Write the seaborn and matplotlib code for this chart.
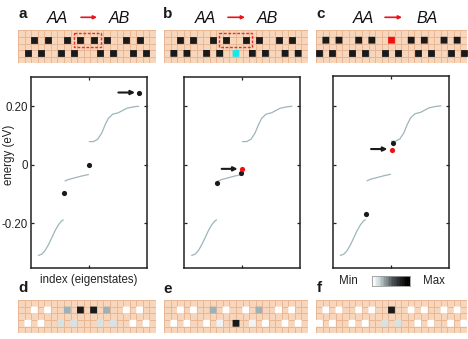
import matplotlib
matplotlib.use("Agg")
import matplotlib.pyplot as plt
import numpy as np
import pandas as pd
import seaborn as sns
from matplotlib.colors import LinearSegmentedColormap, ListedColormap
from matplotlib.patches import Rectangle

# energy levels, index axis runs 0-100
lower_idx = [6.6, 9.5, 12.3, 15.2, 18.0, 20.9, 23.8, 26.6, 28.0]
lower_e = [-0.309, -0.305, -0.293, -0.273, -0.25, -0.225, -0.205, -0.191, -0.188]
mid_idx = [29.5, 32.4, 38.1, 43.8, 49.6]
mid_e = [-0.055, -0.050, -0.044, -0.038, -0.033]
upper_idx = [50.4, 53.9, 57.6, 61.0, 63.9, 66.8, 70.5, 75.4, 82.5, 88.2, 92.8]
upper_e = [0.0795, 0.0795, 0.0875, 0.108, 0.136, 0.159, 0.173, 0.178, 0.193, 0.198, 0.2]

dots_a = [(28.9, -0.0955, "k"), (50.1, -0.001, "k"), (93.4, 0.247, "k")]
dots_b = [(28.7, -0.061, "k"), (49.3, -0.027, "k"), (50.1, -0.0136, "#f01010")]
dots_c = [(28.3, -0.168, "k"), (51.4, 0.075, "k"), (50.6, 0.051, "#f01010")]
arrows = {"a": (75.4, 89.7, 0.247), "b": (32.4, 46.1, -0.0136), "c": (32.9, 46.9, 0.053)}

# lattice strips: column of each site on the two rows
top_a = [2, 4, 7, 9, 11, 13, 16, 18]
bot_a = [1, 3, 6, 8, 12, 14, 17, 19]
top_b = [2, 4, 7, 9, 12, 14, 17, 19]
bot_b = [1, 3, 6, 8, 13, 15, 18, 20]
top_c = [1, 3, 6, 8, 14, 16, 19, 21]
bot_c = [0, 2, 5, 7, 10, 12, 15, 17, 20, 22]

# shade of each site in the lower strips
shade_top_d = ["w", "w", "#9fb0b6", "k", "k", "#9fb0b6", "w", "w"]
shade_bot_d = ["w", "w", "#d8e2e3", "#d8e2e3", "#d8e2e3", "#d8e2e3", "w", "w"]
shade_top_e = ["w", "w", "#9fb0b6", "w", "w", "#9fb0b6", "w", "w"]
shade_bot_e = ["w", "w", "w", "#f1f3f2", "#f1f3f2", "w", "w", "w"]
shade_bot_f = ["w", "w", "w", "w", "#d8e2e3", "#d8e2e3", "w", "w", "w", "w"]

cbar_levels = [0.0, 0.03, 0.07, 0.12, 0.18, 0.25, 0.31, 0.37, 0.42, 0.47, 0.52, 0.57,
               0.62, 0.66, 0.7, 0.74, 0.78, 0.82, 0.86, 0.9, 0.94, 0.97, 1.0, 1.0]

W, H = 468, 339
sns.set_theme(style="white")
plt.rcParams["font.family"] = ["Liberation Sans", "DejaVu Sans"]

fig = plt.figure(figsize=(W / 100, H / 100), dpi=100)


def px_axes(x0, y0, x1, y1):
    return fig.add_axes([x0 / W, 1 - y1 / H, (x1 - x0) / W, (y1 - y0) / H])


def draw_strip(box, ncols, top, bot, top_colors="k", bot_colors="k"):
    ax = px_axes(*box)
    cells = pd.DataFrame(np.zeros((5, ncols)))
    sns.heatmap(cells, ax=ax, cmap=ListedColormap(["#f8d6bc"]), cbar=False, linewidths=0.5,
                linecolor="#e8b896", xticklabels=False, yticklabels=False)
    for cols, row, colors in [(top, 1.5, top_colors), (bot, 3.5, bot_colors)]:
        pts = ax.scatter(np.array(cols) + 0.5, [row] * len(cols), marker="s", s=24, c=colors,
                         linewidths=0, zorder=3)
        pts.set_snap(False)
    return ax


def draw_levels(box, dots, arrow, label=False):
    ax = px_axes(*box)
    for xs, ys in [(lower_idx, lower_e), (mid_idx, mid_e), (upper_idx, upper_e)]:
        sns.lineplot(x=xs, y=ys, ax=ax, color="#9db5bb", lw=0.9, errorbar=None, sort=False)
    for x, y, c in dots:
        ax.scatter(x, y, s=14, c=c, linewidths=0, zorder=4)
    ax.annotate("", xy=(arrow[1], arrow[2]), xytext=(arrow[0], arrow[2]),
                arrowprops=dict(arrowstyle="-|>", color="k", lw=1.5, mutation_scale=6, shrinkA=0, shrinkB=0))
    ax.set_xlim(0, 100)
    ax.set_ylim(-0.352, 0.301)
    ax.set_xticks([50])
    ax.set_yticks([-0.2, 0, 0.2])
    ax.tick_params(direction="in", length=2, width=0.9, color="#222222", top=True, bottom=True,
                   left=True, right=True, labelbottom=False, pad=2)
    for t in ax.yaxis.get_major_ticks():
        if t.get_loc() == 0:
            t.tick1line.set_markersize(4)
            t.tick2line.set_markersize(4)
    if label:
        ax.set_yticklabels(["-0.20", "0", "0.20"], fontsize=8.3, color="#222222")
        ax.set_xlabel("index (eigenstates)", fontsize=8.3, color="#222222", labelpad=4)
        ax.set_ylabel("energy (eV)", fontsize=8.3, color="#222222")
        ax.yaxis.set_label_coords(-0.135, 0.59)
    else:
        ax.tick_params(labelleft=False)
    for s in ax.spines.values():
        s.set_visible(True)
        s.set_linewidth(1.1)
        s.set_color("#222222")
    return ax


# top strips
draw_strip((18, 30.3, 156, 63.3), 21, top_a, bot_a)
draw_strip((164, 30.3, 308, 63.3), 22, top_b, bot_b + [10.5],
           bot_colors=["k"] * len(bot_b) + ["#19e6e6"])
draw_strip((316, 30.3, 467, 63.3), 23, top_c + [11], bot_c, top_colors=["k"] * len(top_c) + ["#f01010"])

# bottom strips
draw_strip((18, 300, 156, 333.3), 21, top_a, bot_a, shade_top_d, shade_bot_d)
draw_strip((164, 300, 308, 333.3), 22, top_b, bot_b + [10.5], shade_top_e, shade_bot_e + ["k"])
draw_strip((316, 300, 467, 333.3), 23, top_c + [11], bot_c, ["w"] * len(top_c) + ["k"], shade_bot_f)

# spectra
draw_levels((30.7, 76.7, 147, 268), dots_a, arrows["a"], label=True)
draw_levels((184, 76.7, 300.3, 268), dots_b, arrows["b"])
draw_levels((332.7, 76.2, 449.3, 268), dots_c, arrows["c"])

# min/max gradient
cax = px_axes(371.7, 276, 410, 286)
sns.heatmap(pd.DataFrame([cbar_levels]), ax=cax, cbar=False, xticklabels=False, yticklabels=False,
            cmap=LinearSegmentedColormap.from_list("gb", ["#ffffff", "#a8b8bc", "#454c4f", "#000000"]))
for s in cax.spines.values():
    s.set_visible(True)
    s.set_linewidth(0.6)
    s.set_color("#999999")

# overlay in pixel coordinates for the labels
ov = fig.add_axes([0, 0, 1, 1], zorder=10)
ov.set_xlim(0, W)
ov.set_ylim(H, 0)
ov.axis("off")
ov.patch.set_alpha(0)

for txt, x, y in [("a", 23, 14), ("b", 168, 14), ("c", 321, 14), ("d", 23, 288), ("e", 168, 289), ("f", 319, 288)]:
    ov.text(x, y, txt, fontsize=11, fontweight="bold", color="k", ha="center", va="center")
for txt, x in [("AA", 57), ("AB", 119), ("AA", 205), ("AB", 267.7), ("AA", 363), ("BA", 427)]:
    ov.text(x, 18.5, txt, fontsize=11.5, style="italic", color="#111111", ha="center", va="center")
for x0, x1 in [(81, 97), (228, 245), (385, 402)]:
    ov.annotate("", xy=(x1, 17.3), xytext=(x0, 17.3),
                arrowprops=dict(arrowstyle="-|>", color="#e8141c", lw=1.2, mutation_scale=5, shrinkA=0, shrinkB=0))
for x0, x1 in [(74, 100.7), (219, 252.3)]:
    ov.add_patch(Rectangle((x0, 33.3), x1 - x0, 14, fill=False, ec="#ee2a2a", lw=1.0, ls=(0, (2, 1.2))))
ov.text(348, 281, "Min", fontsize=8.3, color="#222222", ha="center", va="center")
ov.text(434, 281, "Max", fontsize=8.3, color="#222222", ha="center", va="center")

fig.savefig("out.png", dpi=100)
